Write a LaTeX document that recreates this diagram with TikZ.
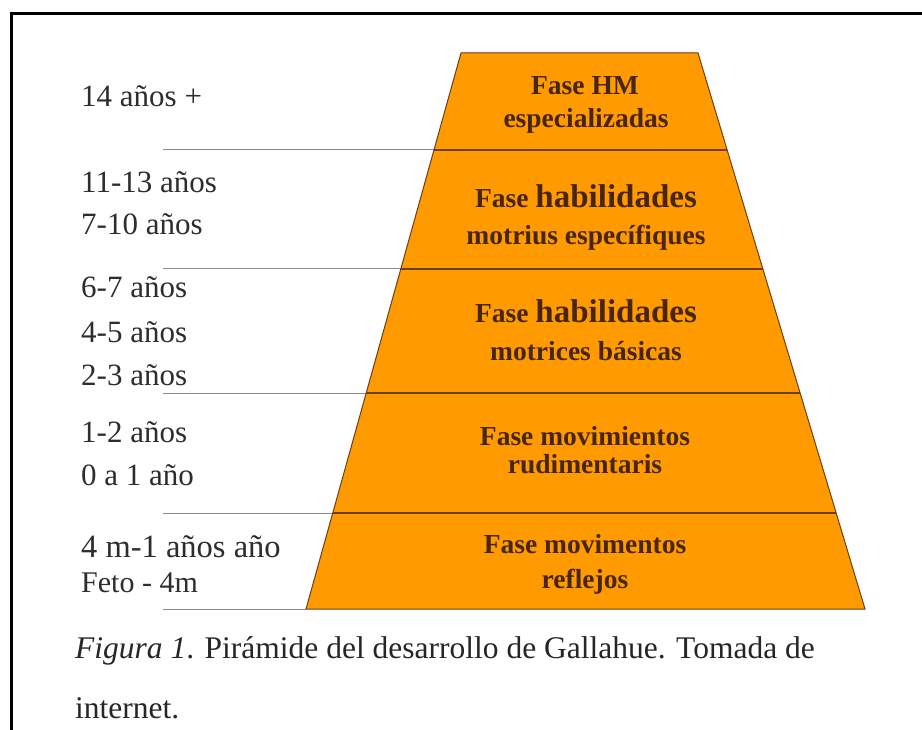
\documentclass[tikz,border=0pt]{standalone}
\usepackage{fontspec}
\setmainfont{Liberation Serif}
\definecolor{pyrorange}{RGB}{255,154,0}
\definecolor{pyrline}{RGB}{110,62,20}
\definecolor{pyrtext}{RGB}{72,38,14}
\definecolor{guide}{RGB}{140,140,140}
\definecolor{labtext}{RGB}{45,45,45}
\begin{document}
\begin{tikzpicture}[x=1pt,y=-1pt,
  agelab/.style={anchor=base west,inner sep=0pt,text=labtext,font=\fontsize{31}{36}\selectfont},
  phase/.style={anchor=base,inner sep=0pt,text=pyrtext,font=\bfseries\fontsize{27.5}{32}\selectfont},
  guideline/.style={draw=guide,line width=1pt},
  divider/.style={draw=pyrline,line width=1.6pt},
  frameline/.style={draw=black,line width=3pt},
  caption/.style={anchor=base west,inner sep=0pt,text=black!85,font=\fontsize{31.5}{36}\selectfont}]
\useasboundingbox (0,0) rectangle (922,730);
\fill[white] (0,0) rectangle (922,730);
% frame
\coordinate (fl) at (11,730);
\coordinate (fc) at (11,14);
\coordinate (fr) at (922,14);
\draw[frameline] (fl) -- (fc) -- (fr);
% pyramid corners
\coordinate (tl) at (461,53);
\coordinate (tr) at (698,53);
\coordinate (bl) at (306,609);
\coordinate (br) at (865,609);
\fill[pyrorange] (tl) -- (tr) -- (br) -- (bl) -- cycle;
% dividers
\foreach \y/\n in {150/a,269/b,393/c,513/d}{
  \path (tl) -- (bl) coordinate[pos={(\y-53)/556}] (L\n);
  \path (tr) -- (br) coordinate[pos={(\y-53)/556}] (R\n);
  \coordinate (G\n) at (163,\y);
  \coordinate (E\n) at (438,\y);
}
\coordinate (Ge) at (163,609);
\draw[guideline] (Ga) -- (Ea);
\draw[guideline] (Gb) -- (Eb);
\draw[guideline] (Gc) -- (Ec);
\draw[guideline] (Gd) -- (Ed);
\draw[guideline] (Ge) -- (bl);
\draw[divider] (La) -- (Ra);
\draw[divider] (Lb) -- (Rb);
\draw[divider] (Lc) -- (Rc);
\draw[divider] (Ld) -- (Rd);
\draw[draw=pyrline,line width=1pt,line join=miter] (tl) -- (tr) -- (br) -- (bl) -- cycle;
% age labels
\node[agelab] (l1) at (81,107) {14 años +};
\node[agelab] (l2) at (81,193) {11-13 años};
\node[agelab] (l3) at (81,235) {7-10 años};
\node[agelab] (l4) at (81,298) {6-7 años};
\node[agelab] (l5) at (81,342) {4-5 años};
\node[agelab] (l6) at (81,385) {2-3 años};
\node[agelab] (l7) at (81,442) {1-2 años};
\node[agelab] (l8) at (81,485) {0 a 1 año};
\node[agelab,font=\fontsize{32.5}{37}\selectfont] (l9) at (81,557) {4 m-1 años año};
\node[agelab,font=\fontsize{30}{35}\selectfont] (l10) at (81,592) {Feto - 4m};
% phase labels
\node[phase] (p1a) at (585,95) {Fase HM};
\node[phase] (p1b) at (586,128) {especializadas};
\node[phase] (p2a) at (586,208) {Fase {\fontsize{33}{38}\selectfont habilidades}};
\node[phase] (p2b) at (586,245) {motrius específiques};
\node[phase] (p3a) at (586,323) {Fase {\fontsize{33}{38}\selectfont habilidades}};
\node[phase] (p3b) at (586,360) {motrices básicas};
\node[phase] (p4a) at (585,445) {Fase movimientos};
\node[phase] (p4b) at (585,473) {rudimentaris};
\node[phase] (p5a) at (585,553) {Fase movimentos};
\node[phase] (p5b) at (585,588) {reflejos};
% caption
\node[caption] (c1) at (75,658) {\textit{Figura 1}. Pirámide del desarrollo de Gallahue. Tomada de};
\node[caption] (c2) at (75,718) {internet.};
\end{tikzpicture}
\end{document}
